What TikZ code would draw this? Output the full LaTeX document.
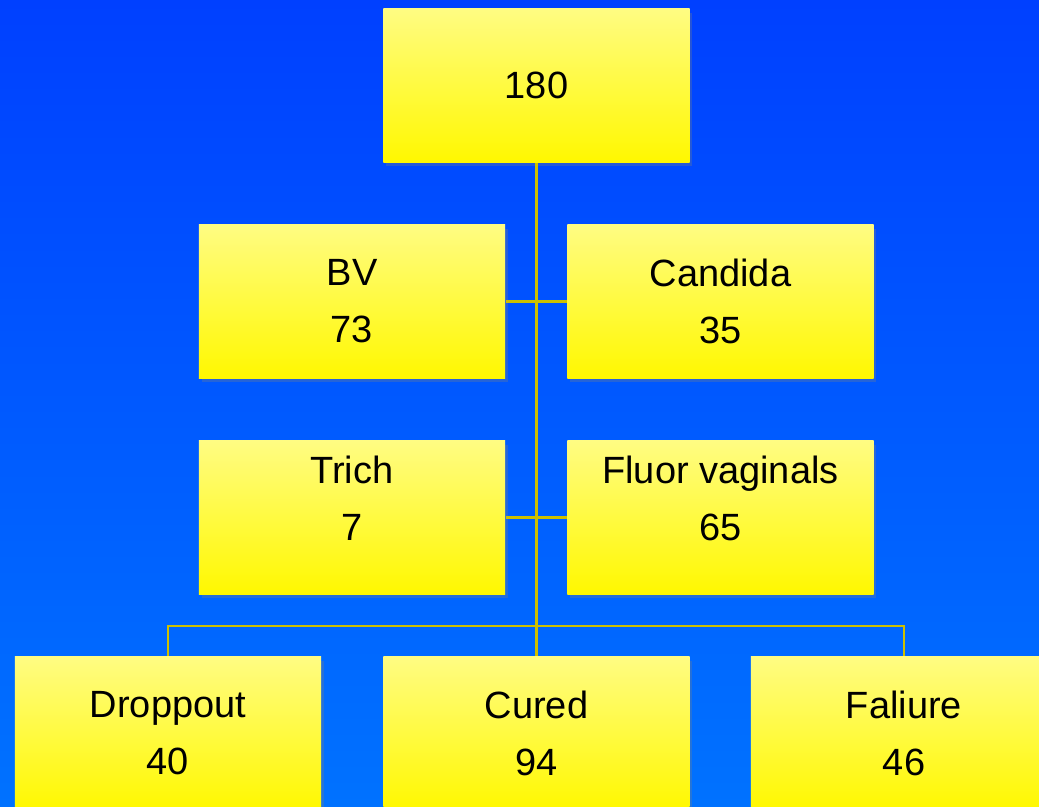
\documentclass[tikz,border=0pt]{standalone}
\usepackage{fontspec}
\setmainfont{Liberation Sans}
\usetikzlibrary{shadows}
\definecolor{bgtop}{RGB}{0,64,255}
\definecolor{bgbot}{RGB}{0,114,255}
\definecolor{boxtop}{RGB}{255,252,130}
\definecolor{boxbot}{RGB}{255,248,0}
\definecolor{linkcol}{RGB}{205,192,0}
\begin{document}
\begin{tikzpicture}[x=0.01cm, y=-0.01cm,
    box/.style={rectangle, minimum width=3.06cm, minimum height=1.53cm, inner sep=0pt,
      top color=boxtop, bottom color=boxbot, align=center,
      drop shadow={opacity=0.3, shadow xshift=0.8pt, shadow yshift=-1.2pt},
      font=\fontsize{10.8}{16.2}\selectfont},
    highbox/.style={box, text depth=10.8pt},
    link/.style={draw=linkcol, line width=0.6pt}]
    \useasboundingbox (0,0) rectangle (1039,807);
    \shade[top color=bgtop, bottom color=bgbot] (0,0) rectangle (1039,807);
    % tree boxes
    \node[box] (total) at (536.5,85.5) {180};
    \node[box] (bv) at (352,301.5) {BV\\73};
    \node[box] (candida) at (720.5,301.5) {Candida\\35};
    \node[highbox] (trich) at (352,517.5) {Trich\\7};
    \node[highbox] (fluor) at (720.5,517.5) {Fluor vaginals\\65};
    \node[box] (dropout) at (168,733.5) {Droppout\\40};
    \node[box] (cured) at (536.5,733.5) {Cured\\94};
    \node[box] (failure) at (904,733.5) {Faliure\\46};
    % connectors
    \coordinate (busleft) at (168,626);
    \coordinate (busright) at (904,626);
    \draw[link] (total.south) -- (cured.north);
    \draw[link] (bv.east) -- (candida.west);
    \draw[link] (trich.east) -- (fluor.west);
    \draw[link] (dropout.north) -- (busleft) -- (busright) -- (failure.north);
\end{tikzpicture}
\end{document}
